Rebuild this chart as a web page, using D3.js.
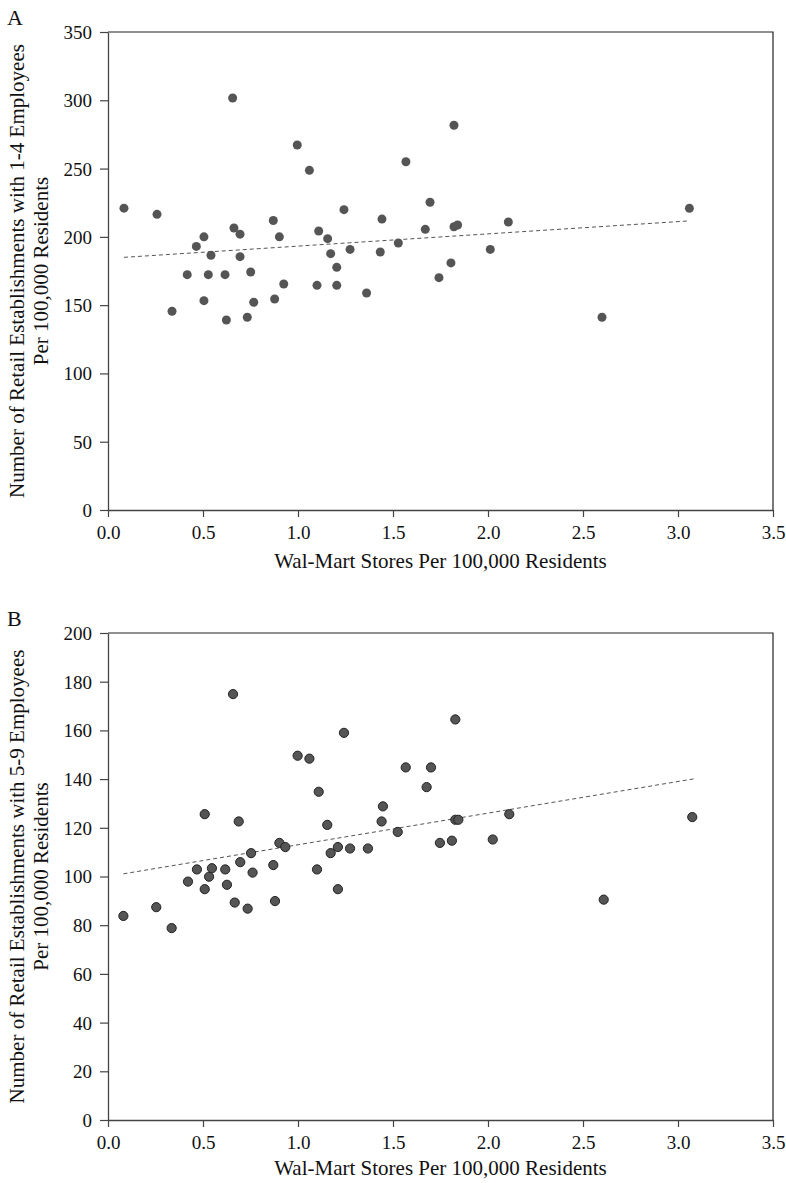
<!DOCTYPE html>
<html>
<head>
<meta charset="utf-8">
<script src="https://cdn.jsdelivr.net/npm/d3@7"></script>
<style>
  body { margin: 0; background: #fff; }
  text { font-family: "Liberation Serif", "Times New Roman", serif; fill: #111; }
</style>
</head>
<body>
<div id="chart"></div>
<script>
// x values (Wal-Mart stores per 100,000 residents), panel A
var storesA = [0.084, 0.258, 0.337, 0.417, 0.465, 0.505, 0.505, 0.528, 0.542, 0.616, 0.623, 0.656,
  0.663, 0.695, 0.695, 0.733, 0.751, 0.767, 0.870, 0.877, 0.902, 0.925, 0.996, 1.060,
  1.100, 1.109, 1.156, 1.172, 1.204, 1.204, 1.242, 1.274, 1.361, 1.433, 1.442, 1.528,
  1.568, 1.670, 1.695, 1.742, 1.805, 1.821, 1.821, 1.840, 2.012, 2.107, 2.600, 3.060];
// retail establishments with 1-4 employees
var small14 = [221, 216.5, 145.5, 172.3, 193, 200, 153.3, 172.3, 186.5, 172.3, 139.1, 301.7,
  206.5, 202, 185.5, 141.1, 174.3, 152.1, 212, 154.5, 200, 165.5, 267.3, 248.7,
  164.5, 204.3, 198.7, 187.7, 177.7, 164.5, 219.9, 190.8, 158.9, 188.9, 213, 195.5,
  255, 205.5, 225.3, 170.1, 180.9, 281.7, 207.4, 208.7, 190.8, 210.9, 141.1, 220.9];
var fitA = [[0.084, 185], [3.05, 211.6]];

// panel B
var storesB = [0.081, 0.254, 0.335, 0.421, 0.468, 0.509, 0.509, 0.532, 0.547, 0.617, 0.626, 0.658,
  0.667, 0.688, 0.696, 0.735, 0.753, 0.761, 0.870, 0.879, 0.902, 0.933, 0.998, 1.060,
  1.100, 1.109, 1.154, 1.172, 1.210, 1.210, 1.242, 1.274, 1.368, 1.440, 1.447, 1.525,
  1.567, 1.677, 1.700, 1.747, 1.810, 1.828, 1.828, 1.844, 2.025, 2.112, 2.609, 3.075];
// retail establishments with 5-9 employees
var small59 = [83.8, 87.4, 78.8, 97.9, 102.9, 125.6, 94.8, 99.9, 103.4, 102.9, 96.6, 174.9,
  89.3, 122.6, 105.9, 86.8, 109.6, 101.6, 104.7, 89.9, 113.8, 112.1, 149.6, 148.4,
  102.9, 134.8, 121.2, 109.6, 112.1, 94.8, 159, 111.5, 111.5, 122.6, 128.8, 118.3,
  144.8, 136.7, 144.8, 113.8, 114.7, 164.5, 123.3, 123.3, 115.2, 125.6, 90.5, 124.4];
var fitB = [[0.081, 101.1], [3.084, 140.1]];

var xTicks = [0, 0.5, 1, 1.5, 2, 2.5, 3, 3.5];
var yTicksA = [0, 50, 100, 150, 200, 250, 300, 350];
var yTicksB = [0, 20, 40, 60, 80, 100, 120, 140, 160, 180, 200];

var serif = '"Liberation Serif", "Times New Roman", serif';

var svg = d3.select("#chart").append("svg")
  .attr("width", 786)
  .attr("height", 1183);

function panel(opts) {
  var left = 108, right = 773;
  var x = d3.scaleLinear().domain([0, 3.5]).range([left, right]);
  var y = d3.scaleLinear().domain([0, opts.ymax]).range([opts.bottom, opts.top]);
  var g = svg.append("g");

  // box (top and right)
  g.append("path")
    .attr("d", "M" + left + "," + opts.top + "H" + right + "V" + opts.bottom)
    .attr("fill", "none").attr("stroke", "#222").attr("stroke-width", 1.2);

  var xAxis = g.append("g")
    .attr("transform", "translate(0," + opts.bottom + ")")
    .call(d3.axisBottom(x).tickValues(xTicks).tickFormat(d3.format(".1f")).tickSize(7).tickSizeOuter(0));
  var yAxis = g.append("g")
    .attr("transform", "translate(" + left + ",0)")
    .call(d3.axisLeft(y).tickValues(opts.yticks).tickSize(8).tickSizeOuter(0));
  [xAxis, yAxis].forEach(function(a) {
    a.attr("font-family", null).attr("font-size", null);
    a.select(".domain").attr("stroke", "#444").attr("stroke-width", 1.3);
    a.selectAll(".tick line").attr("stroke", "#444").attr("stroke-width", 1.2);
    a.selectAll("text").attr("fill", "#111")
      .style("font-family", serif)
      .style("font-size", "19px");
  });
  xAxis.selectAll("text").attr("y", 29).attr("dy", null);
  yAxis.selectAll("text").attr("x", -16).attr("dy", "0.34em");

  // fit line
  g.append("line")
    .attr("x1", x(opts.fit[0][0])).attr("y1", y(opts.fit[0][1]))
    .attr("x2", x(opts.fit[1][0])).attr("y2", y(opts.fit[1][1]))
    .attr("stroke", "#555").attr("stroke-width", 1)
    .attr("stroke-dasharray", "4,3");

  // points
  g.append("g").selectAll("circle")
    .data(opts.xs.map(function(v, i) { return [v, opts.ys[i]]; }))
    .enter().append("circle")
      .attr("cx", function(d) { return x(d[0]); })
      .attr("cy", function(d) { return y(d[1]); })
      .attr("r", opts.stroke ? 4.6 : 4.5)
      .attr("fill", opts.fill)
      .attr("stroke", opts.stroke || "none")
      .attr("stroke-width", 1);

  // panel letter
  g.append("text").attr("x", 7).attr("y", opts.top - 7)
    .style("font-size", "22px").text(opts.letter);

  // axis titles
  g.append("text")
    .attr("x", (left + right) / 2).attr("y", opts.titleY)
    .attr("text-anchor", "middle").style("font-size", "21px")
    .text("Wal-Mart Stores Per 100,000 Residents");
  var cy = (opts.top + opts.bottom) / 2;
  var yt = g.append("text")
    .attr("transform", "translate(0," + cy + ") rotate(-90)")
    .attr("text-anchor", "middle").style("font-size", "21px");
  yt.append("tspan").attr("x", 0).attr("y", 24).text(opts.ytitle);
  yt.append("tspan").attr("x", 0).attr("y", 48).text("Per 100,000 Residents");
}

panel({ letter: "A", top: 32, bottom: 510, ymax: 350, yticks: yTicksA, titleY: 568,
  xs: storesA, ys: small14, fit: fitA, fill: "#555", stroke: null,
  ytitle: "Number of Retail Establishments with 1-4 Employees" });
panel({ letter: "B", top: 633, bottom: 1120, ymax: 200, yticks: yTicksB, titleY: 1175,
  xs: storesB, ys: small59, fit: fitB, fill: "#555", stroke: "#222",
  ytitle: "Number of Retail Establishments with 5-9 Employees" });
</script>
</body>
</html>
